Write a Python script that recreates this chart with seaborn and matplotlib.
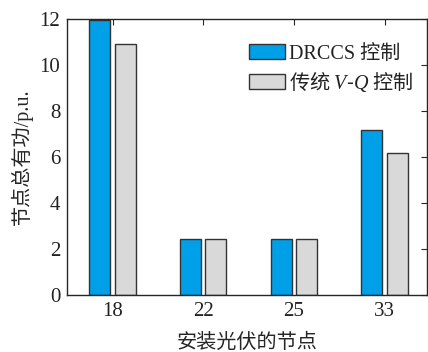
import matplotlib
matplotlib.use("Agg")
import matplotlib.pyplot as plt
import seaborn as sns
import pandas as pd

# Nodes with PV installed and total active power (p.u.) under each control scheme
nodes = ["18", "22", "25", "33"]
drccs = [11.95, 2.42, 2.42, 7.17]
vq = [10.9, 2.42, 2.42, 6.18]
series_names = ["DRCCS 控制", "传统 $V$-$Q$ 控制"]
y_ticks = [0, 2, 4, 6, 8, 10, 12]

sns.set_theme(style="white")
plt.rcParams["font.family"] = ["Liberation Serif", "Noto Sans CJK SC"]
plt.rcParams["mathtext.fontset"] = "custom"
plt.rcParams["mathtext.it"] = "Liberation Serif:italic"
plt.rcParams["mathtext.rm"] = "Liberation Serif"

df = pd.DataFrame({
    "node": nodes * 2,
    "power": drccs + vq,
    "scheme": [series_names[0]] * len(nodes) + [series_names[1]] * len(nodes),
})

fig = plt.figure(figsize=(4.28, 3.52), dpi=100)
ax = fig.add_axes([0.157, 0.162, 0.841, 0.784])

sns.barplot(
    data=df, x="node", y="power", hue="scheme", order=nodes,
    hue_order=series_names, palette=["#00A0E9", "#D9D9D9"], saturation=1,
    width=0.56, gap=0.18, edgecolor="#333333", linewidth=1.0,
    errorbar=None, ax=ax,
)

ax.set_xlim(-0.5, 3.47)
ax.set_ylim(0, 12)
ax.set_yticks(y_ticks)
ax.set_yticklabels([str(t) for t in y_ticks])
ax.set_xlabel("安装光伏的节点", fontsize=14.5, labelpad=9)
ax.set_ylabel("节点总有功/p.u.", fontsize=14.5, labelpad=5)

for sp in ax.spines.values():
    sp.set_visible(True)
    sp.set_color("#262626")
    sp.set_linewidth(1.0)

ax.tick_params(direction="in", length=4, width=0.8, color="#262626",
               top=True, right=True, labelsize=15, labelcolor="#222222",
               pad=5)
for lbl in ax.get_xticklabels() + ax.get_yticklabels():
    lbl.set_family("Liberation Serif")

leg = ax.legend(loc="upper right", bbox_to_anchor=(1.0, 0.96), frameon=False,
                fontsize=14.5, handlelength=1.8, handleheight=0.75,
                handletextpad=0.2, labelspacing=0.3, borderaxespad=0.3)
for patch in leg.get_patches():
    patch.set_edgecolor("#333333")
    patch.set_linewidth(1.0)
leg.get_texts()[1].set_family(["Noto Sans CJK SC"])
for t in leg.get_texts():
    t.set_color("#222222")

fig.savefig("out.png", dpi=100)
